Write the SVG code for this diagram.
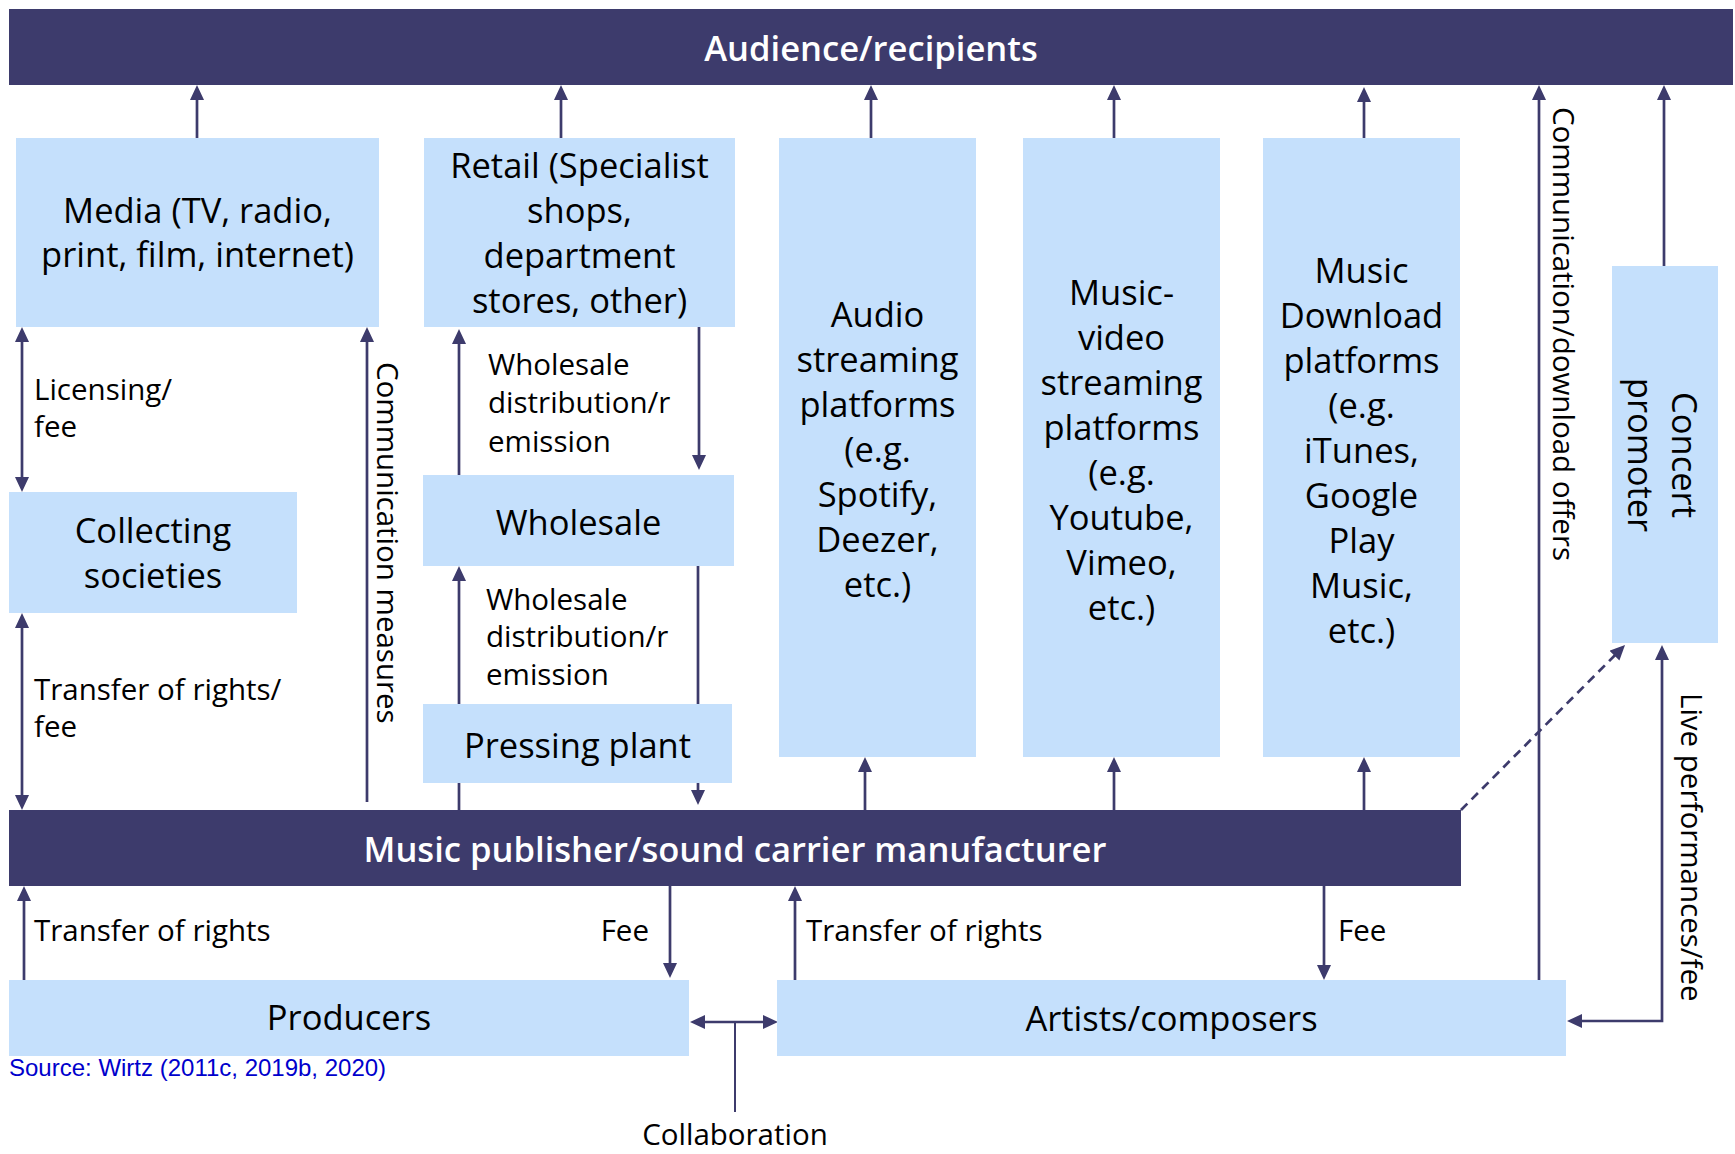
<svg xmlns="http://www.w3.org/2000/svg" width="1735" height="1154" viewBox="0 0 1735 1154">
<style>
.bar{fill:#3d3b6c}
.box{fill:#c5e0fc}
.bt{font-family:"Open Sans","Noto Sans",sans-serif;font-size:34.6px;font-weight:600;fill:#fff;text-anchor:middle}
.nt{font-family:"Open Sans","Noto Sans",sans-serif;font-size:34.5px;fill:#000;text-anchor:middle}
.lb{font-family:"Open Sans","Noto Sans",sans-serif;font-size:29.5px;fill:#000}
.ln{stroke:#3d3b6c;stroke-width:2.7;fill:none}
.src{font-family:"Liberation Sans",Arial,sans-serif;font-size:24px;fill:#0000cc}
</style>
<defs>
<marker id="ah" markerUnits="userSpaceOnUse" markerWidth="15" markerHeight="14" refX="9" refY="7" orient="auto-start-reverse" viewBox="0 0 15 14">
<path d="M0,0 L15,7 L0,14 z" fill="#3d3b6c"/>
</marker>
</defs>
<rect width="1735" height="1154" fill="#fff"/>

<g id="connectors">
<line class="ln" x1="197" y1="138" x2="197" y2="91" marker-end="url(#ah)"/>
<line class="ln" x1="561" y1="138" x2="561" y2="91" marker-end="url(#ah)"/>
<line class="ln" x1="871" y1="138" x2="871" y2="91" marker-end="url(#ah)"/>
<line class="ln" x1="1114" y1="138" x2="1114" y2="91" marker-end="url(#ah)"/>
<line class="ln" x1="1364" y1="138" x2="1364" y2="93" marker-end="url(#ah)"/>
<line class="ln" x1="1539" y1="980" x2="1539" y2="91" marker-end="url(#ah)"/>
<line class="ln" x1="1664" y1="266" x2="1664" y2="91" marker-end="url(#ah)"/>
<line class="ln" x1="865" y1="810" x2="865" y2="763" marker-end="url(#ah)"/>
<line class="ln" x1="1114" y1="810" x2="1114" y2="763" marker-end="url(#ah)"/>
<line class="ln" x1="1364" y1="810" x2="1364" y2="763" marker-end="url(#ah)"/>
<line class="ln" x1="22" y1="333" x2="22" y2="486" marker-start="url(#ah)" marker-end="url(#ah)"/>
<line class="ln" x1="22" y1="619" x2="22" y2="804" marker-start="url(#ah)" marker-end="url(#ah)"/>
<line class="ln" x1="367" y1="802" x2="367" y2="333" marker-end="url(#ah)"/>
<line class="ln" x1="459" y1="475" x2="459" y2="335" marker-end="url(#ah)"/>
<line class="ln" x1="699" y1="327" x2="699" y2="464" marker-end="url(#ah)"/>
<line class="ln" x1="459" y1="810" x2="459" y2="572" marker-end="url(#ah)"/>
<line class="ln" x1="698" y1="566" x2="698" y2="799" marker-end="url(#ah)"/>
<line class="ln" x1="24" y1="980" x2="24" y2="892" marker-end="url(#ah)"/>
<line class="ln" x1="670" y1="886" x2="670" y2="972" marker-end="url(#ah)"/>
<line class="ln" x1="795" y1="980" x2="795" y2="892" marker-end="url(#ah)"/>
<line class="ln" x1="1324" y1="886" x2="1324" y2="974" marker-end="url(#ah)"/>
<line class="ln" x1="696" y1="1022" x2="772" y2="1022" marker-start="url(#ah)" marker-end="url(#ah)"/>
<line class="ln" x1="735" y1="1022" x2="735" y2="1112" style="stroke-width:2"/>
<polyline class="ln" points="1573,1021 1662,1021 1662,651" marker-start="url(#ah)" marker-end="url(#ah)"/>
<line class="ln" x1="1461" y1="810" x2="1620.8" y2="649.3" stroke-dasharray="9,6" marker-end="url(#ah)"/>
</g>

<g id="audience">
<rect class="bar" x="9" y="9" width="1724" height="76"/>
<text class="bt" x="871" y="61">Audience/recipients</text>
</g>

<g id="media">
<rect class="box" x="16" y="138" width="363" height="189"/>
<text class="nt" x="197.5" y="223">Media (TV, radio,</text>
<text class="nt" x="197.5" y="267">print, film, internet)</text>
</g>

<g id="retail">
<rect class="box" x="424" y="138" width="311" height="189"/>
<text class="nt" x="579.5" y="178">Retail (Specialist</text>
<text class="nt" x="579.5" y="223">shops,</text>
<text class="nt" x="579.5" y="268">department</text>
<text class="nt" x="579.5" y="313">stores, other)</text>
</g>

<g id="audio">
<rect class="box" x="779" y="138" width="197" height="619"/>
<text class="nt" x="877.5" y="327">Audio</text>
<text class="nt" x="877.5" y="372">streaming</text>
<text class="nt" x="877.5" y="417">platforms</text>
<text class="nt" x="877.5" y="462">(e.g.</text>
<text class="nt" x="877.5" y="507">Spotify,</text>
<text class="nt" x="877.5" y="552">Deezer,</text>
<text class="nt" x="877.5" y="597">etc.)</text>
</g>

<g id="video">
<rect class="box" x="1023" y="138" width="197" height="619"/>
<text class="nt" x="1121.5" y="305">Music-</text>
<text class="nt" x="1121.5" y="350">video</text>
<text class="nt" x="1121.5" y="395">streaming</text>
<text class="nt" x="1121.5" y="440">platforms</text>
<text class="nt" x="1121.5" y="485">(e.g.</text>
<text class="nt" x="1121.5" y="530">Youtube,</text>
<text class="nt" x="1121.5" y="575">Vimeo,</text>
<text class="nt" x="1121.5" y="620">etc.)</text>
</g>

<g id="download">
<rect class="box" x="1263" y="138" width="197" height="619"/>
<text class="nt" x="1361.5" y="283">Music</text>
<text class="nt" x="1361.5" y="328">Download</text>
<text class="nt" x="1361.5" y="373">platforms</text>
<text class="nt" x="1361.5" y="418">(e.g.</text>
<text class="nt" x="1361.5" y="463">iTunes,</text>
<text class="nt" x="1361.5" y="508">Google</text>
<text class="nt" x="1361.5" y="553">Play</text>
<text class="nt" x="1361.5" y="598">Music,</text>
<text class="nt" x="1361.5" y="643">etc.)</text>
</g>

<g id="concert">
<rect class="box" x="1612" y="266" width="106" height="377"/>
<text class="nt" transform="rotate(90 1672 455)"><tspan x="1672" y="455">Concert</tspan><tspan x="1672" y="499">promoter</tspan></text>
</g>

<g id="collecting">
<rect class="box" x="9" y="492" width="288" height="121"/>
<text class="nt" x="153" y="543">Collecting</text>
<text class="nt" x="153" y="588">societies</text>
</g>

<g id="wholesale">
<rect class="box" x="423" y="475" width="311" height="91"/>
<text class="nt" x="578.5" y="535">Wholesale</text>
</g>

<g id="pressing">
<rect class="box" x="423" y="704" width="309" height="79"/>
<text class="nt" x="577.5" y="758">Pressing plant</text>
</g>

<g id="publisher">
<rect class="bar" x="9" y="810" width="1452" height="76"/>
<text class="bt" x="735" y="862">Music publisher/sound carrier manufacturer</text>
</g>

<g id="producers">
<rect class="box" x="9" y="980" width="680" height="76"/>
<text class="nt" x="349" y="1030">Producers</text>
</g>

<g id="artists">
<rect class="box" x="777" y="980" width="789" height="76"/>
<text class="nt" x="1171.5" y="1031">Artists/composers</text>
</g>

<g id="labels">
<text class="lb" x="34" y="400">Licensing/</text>
<text class="lb" x="34" y="437">fee</text>
<text class="lb" x="34" y="700">Transfer of rights/</text>
<text class="lb" x="34" y="737">fee</text>
<text class="lb" transform="rotate(90 377 362)" x="377" y="362">Communication measures</text>
<text class="lb" x="488" y="375">Wholesale</text>
<text class="lb" x="488" y="413">distribution/r</text>
<text class="lb" x="488" y="452">emission</text>
<text class="lb" x="486" y="610">Wholesale</text>
<text class="lb" x="486" y="647">distribution/r</text>
<text class="lb" x="486" y="685">emission</text>
<text class="lb" x="34" y="941">Transfer of rights</text>
<text class="lb" x="649" y="941" text-anchor="end">Fee</text>
<text class="lb" x="806" y="941">Transfer of rights</text>
<text class="lb" x="1338" y="941">Fee</text>
<text class="lb" x="735" y="1145" text-anchor="middle">Collaboration</text>
<text class="lb" transform="rotate(90 1553 107)" x="1553" y="107">Communication/download offers</text>
<text class="lb" transform="rotate(90 1681 693)" x="1681" y="693">Live performances/fee</text>
</g>

<text class="src" x="9" y="1076">Source: Wirtz (2011c, 2019b, 2020)</text>
</svg>
